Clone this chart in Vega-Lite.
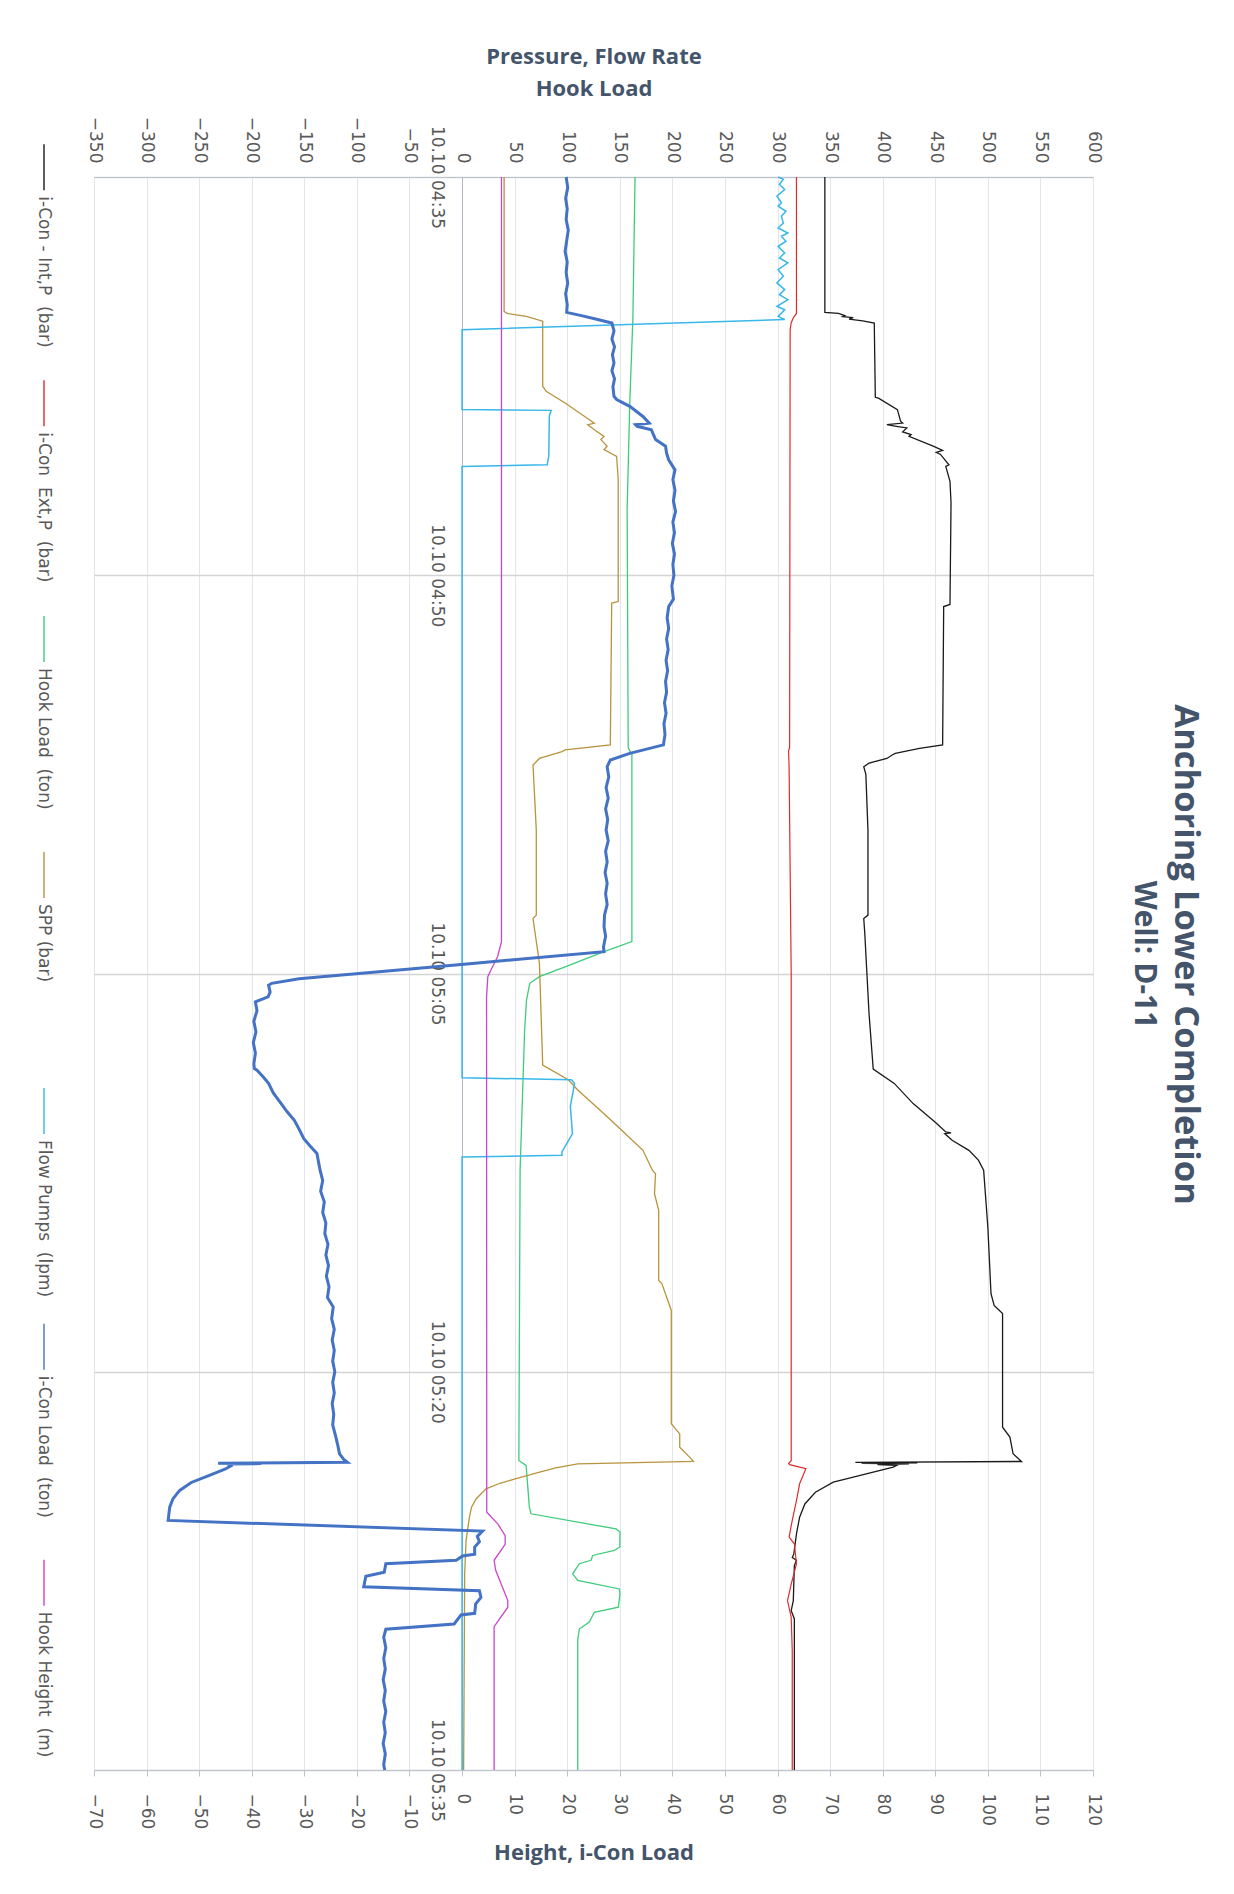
{
  "$schema": "https://vega.github.io/schema/vega-lite/v6.json",
  "autosize": {"type": "pad"},
  "padding": {"left": 34, "top": 45, "right": 20, "bottom": 20},
  "bounds": "flush",
  "background": "white",
  "spacing": 40,
  "title": {
    "text": "Anchoring Lower Completion",
    "subtitle": "Well: D-11",
    "orient": "right",
    "anchor": "middle",
    "font": "Open Sans",
    "fontSize": 34.5,
    "fontWeight": "bold",
    "color": "#44546A",
    "subtitleFont": "Open Sans",
    "subtitleFontSize": 30,
    "subtitleFontWeight": "bold",
    "subtitleColor": "#44546A",
    "subtitlePadding": 8,
    "offset": 26
  },
  "config": {
    "view": {"stroke": null},
    "axis": {
      "labelFont": "DejaVu Sans",
      "labelColor": "#595959",
      "labelFontSize": 17,
      "titleFont": "Open Sans",
      "titleColor": "#44546A",
      "titleFontWeight": "bold",
      "titleFontSize": 22,
      "domainColor": "#bcc4cf",
      "tickColor": "#bcc4cf",
      "gridColor": "#e2e6ec"
    }
  },
  "datasets": {
    "icon_int_p": [
      {"minute":0,"value":345},{"minute":5.1,"value":345},{"minute":5.14,"value":358},{"minute":5.22,"value":364},{"minute":5.26,"value":362},{"minute":5.3,"value":372},{"minute":5.35,"value":368},{"minute":5.42,"value":381},{"minute":5.5,"value":392},{"minute":8.3,"value":393},{"minute":8.33,"value":396},{"minute":8.76,"value":414},{"minute":9.2,"value":417},{"minute":9.27,"value":419},{"minute":9.33,"value":404},{"minute":9.39,"value":413},{"minute":9.45,"value":423},{"minute":9.6,"value":419},{"minute":9.7,"value":427},{"minute":9.77,"value":425},{"minute":10.14,"value":448},{"minute":10.3,"value":457},{"minute":10.37,"value":451},{"minute":10.45,"value":455},{"minute":10.84,"value":463},{"minute":10.9,"value":460},{"minute":11.46,"value":464},{"minute":12.28,"value":465},{"minute":16.1,"value":464},{"minute":16.18,"value":458},{"minute":21.39,"value":457},{"minute":21.52,"value":435},{"minute":21.71,"value":412},{"minute":21.77,"value":409},{"minute":21.9,"value":404},{"minute":22.08,"value":387},{"minute":22.21,"value":382},{"minute":22.5,"value":384},{"minute":24.6,"value":386},{"minute":27.8,"value":386},{"minute":27.93,"value":382},{"minute":28.5,"value":383},{"minute":30.0,"value":385},{"minute":31.5,"value":387},{"minute":33.6,"value":391},{"minute":34.14,"value":411},{"minute":34.9,"value":429},{"minute":35.6,"value":450},{"minute":35.97,"value":460},{"minute":36.0,"value":465},{"minute":36.03,"value":459},{"minute":36.28,"value":466},{"minute":36.66,"value":482},{"minute":37.03,"value":491},{"minute":37.41,"value":496},{"minute":39.55,"value":500},{"minute":42.06,"value":503},{"minute":42.5,"value":506},{"minute":42.81,"value":514},{"minute":47.09,"value":514},{"minute":47.46,"value":521},{"minute":48.09,"value":524},{"minute":48.38,"value":532},{"minute":48.41,"value":374},{"minute":48.43,"value":433},{"minute":48.45,"value":380},{"minute":48.47,"value":425},{"minute":48.5,"value":395},{"minute":48.53,"value":413},{"minute":48.59,"value":410},{"minute":48.97,"value":372},{"minute":49.16,"value":353},{"minute":49.54,"value":336},{"minute":49.98,"value":326},{"minute":50.48,"value":321},{"minute":51.11,"value":318},{"minute":51.86,"value":315.5},{"minute":52.0,"value":314},{"minute":52.1,"value":318},{"minute":52.3,"value":316},{"minute":53.62,"value":315},{"minute":54.0,"value":313},{"minute":54.3,"value":316},{"minute":54.88,"value":316},{"minute":60,"value":316}
    ],
    "icon_ext_p": [
      {"minute":0,"value":318},{"minute":5.14,"value":318},{"minute":5.3,"value":315},{"minute":5.5,"value":313},{"minute":5.75,"value":312},{"minute":21.5,"value":311.5},{"minute":21.6,"value":310.5},{"minute":22.2,"value":311},{"minute":30,"value":313},{"minute":48.35,"value":313},{"minute":48.45,"value":310.5},{"minute":48.5,"value":311.5},{"minute":48.65,"value":327},{"minute":49.22,"value":321},{"minute":49.85,"value":318},{"minute":50.6,"value":314},{"minute":51.23,"value":311},{"minute":51.48,"value":316},{"minute":52.24,"value":318},{"minute":53.0,"value":313},{"minute":53.62,"value":309.5},{"minute":54.25,"value":313},{"minute":55.5,"value":314},{"minute":60,"value":314}
    ],
    "hook_load": [
      {"minute":0,"value":164.5},{"minute":5.25,"value":162.5},{"minute":8.5,"value":159.5},{"minute":12.5,"value":157},{"minute":21.5,"value":158},{"minute":21.75,"value":161.5},{"minute":28.8,"value":161.5},{"minute":29.18,"value":135},{"minute":29.75,"value":98},{"minute":30.12,"value":73.6},{"minute":30.37,"value":64.4},{"minute":31.0,"value":61.3},{"minute":32.14,"value":59.5},{"minute":37.41,"value":55.2},{"minute":48.34,"value":54},{"minute":48.53,"value":60.9},{"minute":50.1,"value":64},{"minute":50.35,"value":65.6},{"minute":50.92,"value":146.4},{"minute":51.04,"value":150.2},{"minute":51.6,"value":150},{"minute":51.73,"value":144.8},{"minute":51.92,"value":124.2},{"minute":52.1,"value":122.7},{"minute":52.23,"value":111.5},{"minute":52.61,"value":105.2},{"minute":52.86,"value":110},{"minute":53.18,"value":149.6},{"minute":53.37,"value":150.2},{"minute":53.87,"value":148.6},{"minute":54.06,"value":125.8},{"minute":54.43,"value":121},{"minute":54.69,"value":111.5},{"minute":55.1,"value":110},{"minute":60,"value":110}
    ],
    "spp": [
      {"minute":0,"value":40},{"minute":5.06,"value":40},{"minute":5.14,"value":43},{"minute":5.25,"value":61},{"minute":5.43,"value":76.7},{"minute":7.88,"value":76.7},{"minute":8.07,"value":80},{"minute":8.51,"value":98},{"minute":9.02,"value":116.6},{"minute":9.27,"value":125.8},{"minute":9.33,"value":119.5},{"minute":9.52,"value":125.8},{"minute":9.77,"value":135},{"minute":9.89,"value":132},{"minute":10.14,"value":138},{"minute":10.27,"value":135},{"minute":10.52,"value":147},{"minute":11.4,"value":148.5},{"minute":15.99,"value":148.5},{"minute":16.05,"value":142.3},{"minute":21.39,"value":141},{"minute":21.58,"value":98},{"minute":21.64,"value":95},{"minute":21.9,"value":73.6},{"minute":22.15,"value":67.5},{"minute":24.6,"value":70.6},{"minute":27.8,"value":70.6},{"minute":27.93,"value":67.5},{"minute":29.62,"value":73.6},{"minute":33.45,"value":76.7},{"minute":34.0,"value":101},{"minute":34.39,"value":110},{"minute":35.28,"value":135},{"minute":35.84,"value":150},{"minute":36.66,"value":172},{"minute":37.41,"value":181},{"minute":37.54,"value":184},{"minute":38.29,"value":183},{"minute":38.92,"value":187},{"minute":41.56,"value":187},{"minute":41.68,"value":190},{"minute":42.69,"value":199},{"minute":46.96,"value":199},{"minute":47.34,"value":207},{"minute":47.84,"value":207},{"minute":48.28,"value":218},{"minute":48.38,"value":220},{"minute":48.47,"value":110},{"minute":48.62,"value":89},{"minute":48.8,"value":72},{"minute":49.03,"value":51.4},{"minute":49.2,"value":36},{"minute":49.41,"value":22.8},{"minute":49.79,"value":13.3},{"minute":50.1,"value":9},{"minute":50.48,"value":7},{"minute":51.36,"value":3.8},{"minute":52.61,"value":2.5},{"minute":60,"value":1.5}
    ],
    "flow_pumps": [
      {"minute":0,"value":300.6},{"minute":0.09,"value":305.5},{"minute":0.28,"value":301.8},{"minute":0.47,"value":306.8},{"minute":0.72,"value":299.4},{"minute":0.97,"value":303.7},{"minute":1.1,"value":300.6},{"minute":1.29,"value":308},{"minute":1.48,"value":303.7},{"minute":1.73,"value":305.5},{"minute":1.92,"value":300.6},{"minute":2.11,"value":309.8},{"minute":2.23,"value":303.7},{"minute":2.42,"value":308},{"minute":2.61,"value":300.6},{"minute":2.86,"value":306.8},{"minute":3.05,"value":301.8},{"minute":3.23,"value":309.8},{"minute":3.49,"value":300.6},{"minute":3.74,"value":305.5},{"minute":3.99,"value":299.4},{"minute":4.24,"value":306.8},{"minute":4.43,"value":301.8},{"minute":4.62,"value":309.8},{"minute":4.87,"value":299.4},{"minute":5.0,"value":306.8},{"minute":5.25,"value":300.6},{"minute":5.37,"value":306.8},{"minute":5.75,"value":0},{"minute":8.76,"value":0},{"minute":8.79,"value":84.7},{"minute":9.0,"value":83},{"minute":10.5,"value":82.5},{"minute":10.84,"value":81},{"minute":10.9,"value":0},{"minute":33.93,"value":0},{"minute":34.0,"value":104},{"minute":34.14,"value":107},{"minute":35.0,"value":103},{"minute":36.03,"value":105},{"minute":36.34,"value":100.5},{"minute":36.72,"value":95},{"minute":36.85,"value":95},{"minute":36.91,"value":0},{"minute":60,"value":0}
    ],
    "icon_load": [
      {"minute":0,"value":19.8},{"minute":0.4,"value":20.1},{"minute":0.8,"value":19.7},{"minute":1.2,"value":20.0},{"minute":1.6,"value":19.8},{"minute":2.0,"value":20.2},{"minute":2.4,"value":19.9},{"minute":2.8,"value":19.6},{"minute":3.2,"value":20.0},{"minute":3.6,"value":19.8},{"minute":4.0,"value":20.1},{"minute":4.4,"value":19.7},{"minute":4.8,"value":20.0},{"minute":5.1,"value":19.9},{"minute":5.22,"value":22.7},{"minute":5.37,"value":25.8},{"minute":5.5,"value":28.5},{"minute":5.8,"value":28.9},{"minute":6.1,"value":28.5},{"minute":6.4,"value":29.0},{"minute":6.7,"value":28.6},{"minute":7.0,"value":28.9},{"minute":7.3,"value":28.5},{"minute":7.6,"value":29.0},{"minute":7.9,"value":28.7},{"minute":8.26,"value":28.9},{"minute":8.38,"value":29.4},{"minute":8.64,"value":31.9},{"minute":9.02,"value":34.4},{"minute":9.27,"value":35.6},{"minute":9.33,"value":33.0},{"minute":9.39,"value":33.3},{"minute":9.52,"value":36.0},{"minute":9.7,"value":36.4},{"minute":9.89,"value":36.8},{"minute":10.14,"value":38.7},{"minute":10.4,"value":38.9},{"minute":10.65,"value":39.3},{"minute":11.03,"value":40.5},{"minute":11.4,"value":40.1},{"minute":11.8,"value":40.5},{"minute":12.2,"value":40.2},{"minute":12.6,"value":40.6},{"minute":13.0,"value":40.1},{"minute":13.4,"value":40.4},{"minute":13.8,"value":40.0},{"minute":14.2,"value":40.4},{"minute":14.6,"value":40.1},{"minute":15.0,"value":40.3},{"minute":15.4,"value":39.9},{"minute":15.9,"value":40.2},{"minute":16.18,"value":39.3},{"minute":16.6,"value":39.0},{"minute":17.0,"value":39.3},{"minute":17.4,"value":38.9},{"minute":17.8,"value":39.2},{"minute":18.2,"value":38.8},{"minute":18.6,"value":39.1},{"minute":19.0,"value":38.7},{"minute":19.4,"value":38.9},{"minute":19.8,"value":38.5},{"minute":20.2,"value":38.8},{"minute":20.6,"value":38.4},{"minute":21.0,"value":38.6},{"minute":21.39,"value":38.3},{"minute":21.71,"value":31.9},{"minute":21.96,"value":28.2},{"minute":22.21,"value":27.6},{"minute":22.6,"value":27.9},{"minute":23.0,"value":27.4},{"minute":23.4,"value":27.8},{"minute":23.8,"value":27.3},{"minute":24.2,"value":27.7},{"minute":24.6,"value":27.4},{"minute":25.0,"value":27.8},{"minute":25.4,"value":27.3},{"minute":25.8,"value":27.6},{"minute":26.2,"value":27.2},{"minute":26.6,"value":27.6},{"minute":27.0,"value":27.3},{"minute":27.4,"value":27.6},{"minute":27.8,"value":27.1},{"minute":28.24,"value":27.0},{"minute":28.6,"value":27.3},{"minute":29.0,"value":26.9},{"minute":29.18,"value":27.0},{"minute":29.62,"value":2.0},{"minute":30.0,"value":-19.6},{"minute":30.2,"value":-31.0},{"minute":30.37,"value":-36.2},{"minute":30.44,"value":-36.8},{"minute":30.7,"value":-36.5},{"minute":30.88,"value":-36.9},{"minute":31.07,"value":-39.3},{"minute":31.4,"value":-39.0},{"minute":31.8,"value":-39.6},{"minute":32.2,"value":-39.2},{"minute":32.6,"value":-39.7},{"minute":33.0,"value":-39.3},{"minute":33.4,"value":-39.6},{"minute":33.58,"value":-39.5},{"minute":33.64,"value":-39.0},{"minute":33.9,"value":-37.8},{"minute":34.14,"value":-36.8},{"minute":34.5,"value":-35.9},{"minute":34.9,"value":-34.4},{"minute":35.2,"value":-33.3},{"minute":35.53,"value":-31.9},{"minute":35.9,"value":-30.9},{"minute":36.22,"value":-30.1},{"minute":36.5,"value":-28.9},{"minute":36.78,"value":-27.6},{"minute":37.1,"value":-27.3},{"minute":37.41,"value":-27.0},{"minute":37.8,"value":-26.5},{"minute":38.2,"value":-26.9},{"minute":38.6,"value":-26.2},{"minute":39.0,"value":-26.5},{"minute":39.4,"value":-25.9},{"minute":39.8,"value":-26.1},{"minute":40.2,"value":-25.5},{"minute":40.6,"value":-25.9},{"minute":41.0,"value":-25.4},{"minute":41.4,"value":-25.8},{"minute":41.8,"value":-25.3},{"minute":42.2,"value":-25.6},{"minute":42.56,"value":-24.5},{"minute":43.0,"value":-24.8},{"minute":43.4,"value":-24.3},{"minute":43.8,"value":-24.7},{"minute":44.2,"value":-24.3},{"minute":44.6,"value":-24.6},{"minute":45.0,"value":-24.2},{"minute":45.4,"value":-24.6},{"minute":45.8,"value":-24.3},{"minute":46.2,"value":-24.7},{"minute":46.6,"value":-24.4},{"minute":47.0,"value":-24.6},{"minute":47.46,"value":-24.0},{"minute":47.8,"value":-23.6},{"minute":48.09,"value":-23.3},{"minute":48.3,"value":-22.5},{"minute":48.41,"value":-21.8},{"minute":48.45,"value":-46.4},{"minute":48.46,"value":-38.2},{"minute":48.47,"value":-44.5},{"minute":48.55,"value":-44.0},{"minute":48.67,"value":-45.1},{"minute":48.92,"value":-48.3},{"minute":49.17,"value":-51.5},{"minute":49.47,"value":-53.7},{"minute":49.79,"value":-55.0},{"minute":50.1,"value":-55.6},{"minute":50.6,"value":-55.9},{"minute":51.0,"value":3.9},{"minute":51.2,"value":2.9},{"minute":51.4,"value":3.3},{"minute":51.6,"value":2.4},{"minute":51.87,"value":2.4},{"minute":51.94,"value":0.1},{"minute":52.1,"value":-1.1},{"minute":52.23,"value":-14.5},{"minute":52.55,"value":-14.8},{"minute":52.7,"value":-18.3},{"minute":53.1,"value":-18.7},{"minute":53.25,"value":3.3},{"minute":53.5,"value":3.6},{"minute":53.74,"value":2.6},{"minute":54.1,"value":2.4},{"minute":54.16,"value":-0.2},{"minute":54.5,"value":-1.5},{"minute":54.7,"value":-14.5},{"minute":55.0,"value":-14.9},{"minute":55.4,"value":-14.5},{"minute":55.8,"value":-14.9},{"minute":56.2,"value":-14.6},{"minute":56.6,"value":-15.0},{"minute":57.0,"value":-14.6},{"minute":57.4,"value":-14.9},{"minute":57.8,"value":-14.5},{"minute":58.2,"value":-14.9},{"minute":58.6,"value":-14.6},{"minute":59.0,"value":-15.0},{"minute":59.4,"value":-14.6},{"minute":59.8,"value":-14.9},{"minute":60,"value":-14.7}
    ],
    "hook_height": [
      {"minute":0,"value":7.5},{"minute":28.8,"value":7.5},{"minute":29.37,"value":6.75},{"minute":29.87,"value":5.5},{"minute":30.12,"value":4.9},{"minute":30.88,"value":4.66},{"minute":50.29,"value":4.7},{"minute":50.73,"value":6.8},{"minute":51.17,"value":8.2},{"minute":51.5,"value":8.2},{"minute":52.1,"value":6.1},{"minute":52.48,"value":6.4},{"minute":53.62,"value":8.7},{"minute":53.87,"value":8.7},{"minute":54.6,"value":6.1},{"minute":60,"value":6.1}
    ],
    "legend_items": [
      {"series": "i-Con - Int,P (bar)", "label": "i-Con - Int,P \u00a0(bar)"},
      {"series": "i-Con Ext,P (bar)", "label": "i-Con \u00a0Ext,P \u00a0(bar)"},
      {"series": "Hook Load (ton)", "label": "Hook Load \u00a0(ton)"},
      {"series": "SPP (bar)", "label": "SPP (bar)"},
      {"series": "Flow Pumps (lpm)", "label": "Flow Pumps \u00a0(lpm)"},
      {"series": "i-Con Load (ton)", "label": "i-Con Load \u00a0(ton)"},
      {"series": "Hook Height (m)", "label": "Hook Height \u00a0(m)"}
    ]
  },
  "hconcat": [
    {
      "width": 20,
      "height": 1593,
      "data": {"name": "legend_items"},
      "encoding": {
        "y": {"field": "series", "type": "nominal", "sort": null, "scale": {"type": "point", "padding": 0.3765, "align": 0.0974}, "axis": null}
      },
      "layer": [
        {
          "mark": {"type": "tick", "orient": "vertical", "size": 46, "thickness": 2, "yOffset": -27},
          "encoding": {
            "color": {
              "field": "series", "type": "nominal", "legend": null,
              "scale": {
                "domain": ["i-Con - Int,P (bar)", "i-Con Ext,P (bar)", "Hook Load (ton)", "SPP (bar)", "Flow Pumps (lpm)", "i-Con Load (ton)", "Hook Height (m)"],
                "range": ["#1a1a1a", "#e02b2b", "#3dcc7a", "#b8943c", "#38b7ea", "#4472c4", "#cc44cc"]
              }
            }
          }
        },
        {
          "mark": {"type": "text", "angle": 90, "align": "left", "baseline": "middle", "dx": 2, "font": "DejaVu Sans", "fontSize": 17, "color": "#595959"},
          "encoding": {"text": {"field": "label"}}
        }
      ]
    },
    {
      "width": 999,
      "height": 1593,
      "encoding": {
        "y": {
          "field": "minute", "type": "quantitative",
          "scale": {"domain": [0, 60], "reverse": true, "nice": false, "zero": false},
          "axis": {
            "orient": "left", "offset": -368, "values": [0, 15, 30, 45, 60],
            "labelExpr": "'10.10 ' + timeFormat(datetime(2020, 9, 10, 4, 35 + datum.value), '%H:%M')",
            "labelAngle": 90, "labelAlign": "center", "labelBaseline": "top", "labelPadding": 18,
            "labelFontSize": 17, "ticks": false, "tickSize": 0, "domain": true, "domainColor": "#b0b8c4",
            "grid": true, "gridColor": "#d4d4d4", "gridWidth": 1.5, "title": null,
            "labelOverlap": false, "labelBound": false, "labelFlush": false
          }
        },
        "order": {"field": "minute", "type": "quantitative"}
      },
      "layer": [
        {
          "encoding": {
            "x": {
              "field": "value", "type": "quantitative",
              "scale": {"domain": [-350, 600], "nice": false, "zero": false},
              "axis": {
                "orient": "top",
                "values": [-350, -300, -250, -200, -150, -100, -50, 0, 50, 100, 150, 200, 250, 300, 350, 400, 450, 500, 550, 600],
                "labelAngle": 90, "labelAlign": "right", "labelBaseline": "middle", "labelPadding": 14,
                "ticks": false, "tickSize": 0, "grid": true, "gridColor": "#e2e6ec", "gridWidth": 1,
                "title": ["Pressure, Flow Rate", "Hook Load"], "titlePadding": 16, "titleLineHeight": 32,
                "labelOverlap": false, "labelFlush": false, "labelBound": false
              }
            }
          },
          "layer": [
            {"data": {"name": "icon_int_p"}, "mark": {"type": "line", "color": "#1a1a1a", "strokeWidth": 1.3}},
            {"data": {"name": "icon_ext_p"}, "mark": {"type": "line", "color": "#e02b2b", "strokeWidth": 1.2}},
            {"data": {"name": "hook_load"}, "mark": {"type": "line", "color": "#3dcc7a", "strokeWidth": 1.3}},
            {"data": {"name": "spp"}, "mark": {"type": "line", "color": "#b8943c", "strokeWidth": 1.3}},
            {"data": {"name": "flow_pumps"}, "mark": {"type": "line", "color": "#38b7ea", "strokeWidth": 1.5}}
          ]
        },
        {
          "encoding": {
            "x": {
              "field": "value", "type": "quantitative",
              "scale": {"domain": [-70, 120], "nice": false, "zero": false},
              "axis": {
                "orient": "bottom",
                "values": [-70, -60, -50, -40, -30, -20, -10, 0, 10, 20, 30, 40, 50, 60, 70, 80, 90, 100, 110, 120],
                "labelAngle": 90, "labelAlign": "left", "labelBaseline": "middle", "labelPadding": 17,
                "ticks": true, "tickSize": 6, "grid": false,
                "title": "Height, i-Con Load", "titlePadding": 14,
                "labelOverlap": false, "labelFlush": false, "labelBound": false
              }
            }
          },
          "layer": [
            {"data": {"name": "hook_height"}, "mark": {"type": "line", "color": "#cc44cc", "strokeWidth": 1.3}},
            {"data": {"name": "icon_load"}, "mark": {"type": "line", "color": "#4472c4", "strokeWidth": 3}}
          ]
        }
      ],
      "resolve": {"scale": {"x": "independent"}}
    }
  ]
}
